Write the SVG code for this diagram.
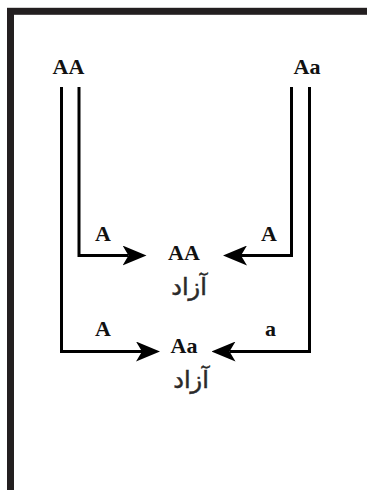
<svg xmlns="http://www.w3.org/2000/svg" width="367" height="490" viewBox="0 0 367 490">
<defs>
<style>
.lbl{font-family:"Liberation Serif","Times New Roman",serif;font-weight:bold;font-size:22px;fill:#111;text-anchor:middle}
.fa{font-family:"DejaVu Sans","Noto Sans",sans-serif;font-size:24px;fill:#2a2a2a;stroke:#2a2a2a;stroke-width:0.5;text-anchor:middle}
.ln{fill:none;stroke:#000;stroke-width:3;stroke-linejoin:miter;marker-end:url(#ah)}
</style>
<marker id="ah" viewBox="0 0 24 20" refX="6" refY="10" markerWidth="24" markerHeight="20" markerUnits="userSpaceOnUse" orient="auto">
<path d="M0,0 L24,10 L0,20 L6,10 Z" fill="#000"/>
</marker>
</defs>
<rect width="367" height="490" fill="#fff"/>
<rect id="frame" x="10.5" y="11.3" width="380" height="500" fill="none" stroke="#231f20" stroke-width="7"/>
<g id="parent1"><text class="lbl" x="68.5" y="74">AA</text></g>
<g id="parent2"><text class="lbl" x="307" y="74">Aa</text></g>
<g id="gamete-A1"><text class="lbl" x="103" y="241">A</text></g>
<g id="gamete-A2"><text class="lbl" x="269" y="241">A</text></g>
<g id="gamete-A3"><text class="lbl" x="103" y="336">A</text></g>
<g id="gamete-a"><text class="lbl" x="270.5" y="336">a</text></g>
<g id="child1"><text class="lbl" x="184" y="260">AA</text><text class="fa" x="189" y="295" direction="rtl">آزاد</text></g>
<g id="child2"><text class="lbl" x="184" y="353">Aa</text><text class="fa" x="191" y="388" direction="rtl">آزاد</text></g>
<g id="connectors">
<path class="ln" d="M79,87 V255.5 H128.5"/>
<path class="ln" d="M61.5,87 V351.5 H142"/>
<path class="ln" d="M291.5,87 V255.5 H241"/>
<path class="ln" d="M309.5,87 V351.5 H229.5"/>
</g>
</svg>
